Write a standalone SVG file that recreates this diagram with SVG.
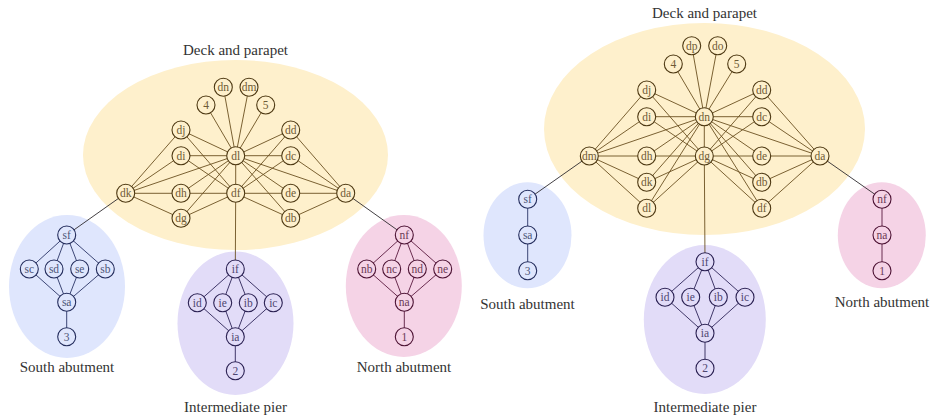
<svg xmlns="http://www.w3.org/2000/svg" width="933" height="416" viewBox="0 0 933 416">
  <style>
    .bg { fill: #ffffff; }
    .deck-area { fill: #fef0cc; }
    .south-area { fill: #dfe6fd; }
    .pier-area { fill: #e2dcf8; }
    .north-area { fill: #f5d3e6; }
    .title { font-family: "Liberation Serif", "DejaVu Serif", serif; font-size: 15px; fill: #333333; text-anchor: middle; }
    .lbl { font-family: "Liberation Serif", "DejaVu Serif", serif; font-size: 11.5px; text-anchor: middle; }
    .n circle { stroke-width: 1.1; }
    .deck circle { fill: #fef0cc; stroke: #4d3812; }
    .deck text { fill: #6e5a35; }
    .south circle { fill: #dfe6fd; stroke: #232c5c; }
    .south text { fill: #4d5577; }
    .pier circle { fill: #e2dcf8; stroke: #2a2052; }
    .pier text { fill: #4e4670; }
    .north circle { fill: #f5d3e6; stroke: #4c1233; }
    .north text { fill: #6a3a55; }
    .e { fill: none; stroke-width: 0.9; }
    .e-deck { stroke: #6b5020; }
    .e-south { stroke: #2a3466; }
    .e-pier { stroke: #2d2458; }
    .e-north { stroke: #5a1a3e; }
    .e-link { stroke: #2e2a2e; }
  </style>

  <rect class="bg" x="0" y="0" width="933" height="416"/>

  <!-- ===== Left configuration: cluster areas ===== -->
  <ellipse class="deck-area" cx="235.5" cy="155" rx="152.5" ry="95"/>
  <ellipse class="south-area" cx="67" cy="286.5" rx="58" ry="71.5"/>
  <ellipse class="pier-area" cx="235.5" cy="323.3" rx="58" ry="71.7"/>
  <ellipse class="north-area" cx="403.8" cy="286" rx="58" ry="71"/>

  <!-- ===== Right configuration: cluster areas ===== -->
  <ellipse class="deck-area" cx="704.5" cy="129" rx="160.5" ry="106"/>
  <ellipse class="south-area" cx="527.5" cy="235.3" rx="44" ry="53"/>
  <ellipse class="pier-area" cx="704.8" cy="319.5" rx="61" ry="74.5"/>
  <ellipse class="north-area" cx="881.8" cy="235.3" rx="44" ry="53"/>

  <!-- cluster titles -->
  <text class="title" x="235.5" y="54.5">Deck and parapet</text>
  <text class="title" x="67" y="371.5">South abutment</text>
  <text class="title" x="235.5" y="411.5">Intermediate pier</text>
  <text class="title" x="404" y="371.5">North abutment</text>
  <text class="title" x="704.5" y="17.5">Deck and parapet</text>
  <text class="title" x="527.5" y="308.5">South abutment</text>
  <text class="title" x="705" y="411.5">Intermediate pier</text>
  <text class="title" x="882" y="306.5">North abutment</text>

  <!-- ===== Connectors ===== -->
  <g id="connectors">
    <!-- left deck -->
    <g class="e e-deck">
      <line x1="235.7" y1="155.7" x2="206" y2="105"/>
      <line x1="235.7" y1="155.7" x2="223.3" y2="87.3"/>
      <line x1="235.7" y1="155.7" x2="249" y2="87.3"/>
      <line x1="235.7" y1="155.7" x2="265.7" y2="105"/>
      <line x1="235.7" y1="155.7" x2="235.7" y2="193.3"/>
      <!-- west side -->
      <line x1="125.7" y1="193.3" x2="181" y2="130"/>
      <line x1="125.7" y1="193.3" x2="181" y2="155.7"/>
      <line x1="125.7" y1="193.3" x2="235.7" y2="155.7"/>
      <line x1="125.7" y1="193.3" x2="181" y2="193.3"/>
      <line x1="125.7" y1="193.3" x2="181" y2="218.3"/>
      <line x1="181" y1="130" x2="235.7" y2="155.7"/>
      <line x1="181" y1="155.7" x2="235.7" y2="155.7"/>
      <line x1="181" y1="193.3" x2="235.7" y2="155.7"/>
      <line x1="181" y1="218.3" x2="235.7" y2="155.7"/>
      <line x1="181" y1="130" x2="235.7" y2="193.3"/>
      <line x1="181" y1="155.7" x2="235.7" y2="193.3"/>
      <line x1="181" y1="193.3" x2="235.7" y2="193.3"/>
      <line x1="181" y1="218.3" x2="235.7" y2="193.3"/>
      <!-- east side -->
      <line x1="345.7" y1="193.3" x2="290.7" y2="130"/>
      <line x1="345.7" y1="193.3" x2="290.7" y2="155.7"/>
      <line x1="345.7" y1="193.3" x2="235.7" y2="155.7"/>
      <line x1="345.7" y1="193.3" x2="290.7" y2="193.3"/>
      <line x1="345.7" y1="193.3" x2="290.7" y2="218.3"/>
      <line x1="290.7" y1="130" x2="235.7" y2="155.7"/>
      <line x1="290.7" y1="155.7" x2="235.7" y2="155.7"/>
      <line x1="290.7" y1="193.3" x2="235.7" y2="155.7"/>
      <line x1="290.7" y1="218.3" x2="235.7" y2="155.7"/>
      <line x1="290.7" y1="130" x2="235.7" y2="193.3"/>
      <line x1="290.7" y1="155.7" x2="235.7" y2="193.3"/>
      <line x1="290.7" y1="193.3" x2="235.7" y2="193.3"/>
      <line x1="290.7" y1="218.3" x2="235.7" y2="193.3"/>
      <!-- deck to pier -->
      <line x1="235.7" y1="193.3" x2="235.3" y2="269"/>
    </g>
    <line class="e e-link" x1="125.7" y1="193.3" x2="66.7" y2="235"/>
    <line class="e e-link" x1="345.7" y1="193.3" x2="404.3" y2="235"/>

    <!-- left south abutment -->
    <g class="e e-south">
      <line x1="66.7" y1="235" x2="29.3" y2="269"/>
      <line x1="66.7" y1="235" x2="54" y2="269"/>
      <line x1="66.7" y1="235" x2="79.7" y2="269"/>
      <line x1="66.7" y1="235" x2="105.3" y2="269"/>
      <line x1="66.7" y1="302.3" x2="29.3" y2="269"/>
      <line x1="66.7" y1="302.3" x2="54" y2="269"/>
      <line x1="66.7" y1="302.3" x2="79.7" y2="269"/>
      <line x1="66.7" y1="302.3" x2="105.3" y2="269"/>
      <line x1="66.7" y1="302.3" x2="66.7" y2="336.7"/>
    </g>
    <!-- left pier -->
    <g class="e e-pier">
      <line x1="235.3" y1="269" x2="197.3" y2="302.7"/>
      <line x1="235.3" y1="269" x2="222.7" y2="302.7"/>
      <line x1="235.3" y1="269" x2="248.3" y2="302.7"/>
      <line x1="235.3" y1="269" x2="273.3" y2="302.7"/>
      <line x1="235.3" y1="336.7" x2="197.3" y2="302.7"/>
      <line x1="235.3" y1="336.7" x2="222.7" y2="302.7"/>
      <line x1="235.3" y1="336.7" x2="248.3" y2="302.7"/>
      <line x1="235.3" y1="336.7" x2="273.3" y2="302.7"/>
      <line x1="235.3" y1="336.7" x2="235.3" y2="370.7"/>
    </g>
    <!-- left north abutment -->
    <g class="e e-north">
      <line x1="404.3" y1="235" x2="366.7" y2="269"/>
      <line x1="404.3" y1="235" x2="391.7" y2="269"/>
      <line x1="404.3" y1="235" x2="417.3" y2="269"/>
      <line x1="404.3" y1="235" x2="442.7" y2="269"/>
      <line x1="404.3" y1="302.3" x2="366.7" y2="269"/>
      <line x1="404.3" y1="302.3" x2="391.7" y2="269"/>
      <line x1="404.3" y1="302.3" x2="417.3" y2="269"/>
      <line x1="404.3" y1="302.3" x2="442.7" y2="269"/>
      <line x1="404.3" y1="302.3" x2="404.3" y2="336.7"/>
    </g>

    <!-- right deck -->
    <g class="e e-deck">
      <line x1="704.3" y1="116.7" x2="673.3" y2="64"/>
      <line x1="704.3" y1="116.7" x2="691.7" y2="45.7"/>
      <line x1="704.3" y1="116.7" x2="717.7" y2="45.7"/>
      <line x1="704.3" y1="116.7" x2="736.7" y2="64"/>
      <line x1="704.3" y1="116.7" x2="704.3" y2="156"/>
      <!-- west side -->
      <line x1="589.3" y1="156" x2="646.7" y2="90"/>
      <line x1="589.3" y1="156" x2="646.7" y2="116.7"/>
      <line x1="589.3" y1="156" x2="704.3" y2="116.7"/>
      <line x1="589.3" y1="156" x2="646.7" y2="156"/>
      <line x1="589.3" y1="156" x2="646.7" y2="182.3"/>
      <line x1="589.3" y1="156" x2="646.7" y2="208.3"/>
      <line x1="646.7" y1="90" x2="704.3" y2="116.7"/>
      <line x1="646.7" y1="116.7" x2="704.3" y2="116.7"/>
      <line x1="646.7" y1="156" x2="704.3" y2="116.7"/>
      <line x1="646.7" y1="182.3" x2="704.3" y2="116.7"/>
      <line x1="646.7" y1="208.3" x2="704.3" y2="116.7"/>
      <line x1="646.7" y1="90" x2="704.3" y2="156"/>
      <line x1="646.7" y1="116.7" x2="704.3" y2="156"/>
      <line x1="646.7" y1="156" x2="704.3" y2="156"/>
      <line x1="646.7" y1="182.3" x2="704.3" y2="156"/>
      <line x1="646.7" y1="208.3" x2="704.3" y2="156"/>
      <!-- east side -->
      <line x1="820" y1="156" x2="761.7" y2="90"/>
      <line x1="820" y1="156" x2="761.7" y2="116.7"/>
      <line x1="820" y1="156" x2="704.3" y2="116.7"/>
      <line x1="820" y1="156" x2="761.7" y2="156"/>
      <line x1="820" y1="156" x2="761.7" y2="182.3"/>
      <line x1="820" y1="156" x2="761.7" y2="208.3"/>
      <line x1="761.7" y1="90" x2="704.3" y2="116.7"/>
      <line x1="761.7" y1="116.7" x2="704.3" y2="116.7"/>
      <line x1="761.7" y1="156" x2="704.3" y2="116.7"/>
      <line x1="761.7" y1="182.3" x2="704.3" y2="116.7"/>
      <line x1="761.7" y1="208.3" x2="704.3" y2="116.7"/>
      <line x1="761.7" y1="90" x2="704.3" y2="156"/>
      <line x1="761.7" y1="116.7" x2="704.3" y2="156"/>
      <line x1="761.7" y1="156" x2="704.3" y2="156"/>
      <line x1="761.7" y1="182.3" x2="704.3" y2="156"/>
      <line x1="761.7" y1="208.3" x2="704.3" y2="156"/>
      <!-- deck to pier -->
      <line x1="704.3" y1="156" x2="705" y2="261.7"/>
    </g>
    <line class="e e-link" x1="589.3" y1="156" x2="527.7" y2="199.3"/>
    <line class="e e-link" x1="820" y1="156" x2="882" y2="199.3"/>

    <!-- right south abutment -->
    <g class="e e-south">
      <line x1="527.7" y1="199.3" x2="527.7" y2="235"/>
      <line x1="527.7" y1="235" x2="527.7" y2="270.7"/>
    </g>
    <!-- right pier -->
    <g class="e e-pier">
      <line x1="705" y1="261.7" x2="665" y2="297.3"/>
      <line x1="705" y1="261.7" x2="690.7" y2="297.3"/>
      <line x1="705" y1="261.7" x2="718.3" y2="297.3"/>
      <line x1="705" y1="261.7" x2="745" y2="297.3"/>
      <line x1="705" y1="333.3" x2="665" y2="297.3"/>
      <line x1="705" y1="333.3" x2="690.7" y2="297.3"/>
      <line x1="705" y1="333.3" x2="718.3" y2="297.3"/>
      <line x1="705" y1="333.3" x2="745" y2="297.3"/>
      <line x1="705" y1="333.3" x2="705" y2="368.3"/>
    </g>
    <!-- right north abutment -->
    <g class="e e-north">
      <line x1="882" y1="199.3" x2="882" y2="235"/>
      <line x1="882" y1="235" x2="882" y2="270.7"/>
    </g>
  </g>

  <!-- ===== Nodes: left configuration ===== -->
  <g class="n deck">
    <g id="L-dn"><circle cx="223.3" cy="87.3" r="9"/><text class="lbl" x="223.3" y="91.2">dn</text></g>
    <g id="L-dm"><circle cx="249" cy="87.3" r="9"/><text class="lbl" x="249" y="91.2">dm</text></g>
    <g id="L-4"><circle cx="206" cy="105" r="9"/><text class="lbl" x="206" y="108.9">4</text></g>
    <g id="L-5"><circle cx="265.7" cy="105" r="9"/><text class="lbl" x="265.7" y="108.9">5</text></g>
    <g id="L-dj"><circle cx="181" cy="130" r="9"/><text class="lbl" x="181" y="133.9">dj</text></g>
    <g id="L-dd"><circle cx="290.7" cy="130" r="9"/><text class="lbl" x="290.7" y="133.9">dd</text></g>
    <g id="L-di"><circle cx="181" cy="155.7" r="9"/><text class="lbl" x="181" y="159.6">di</text></g>
    <g id="L-dl"><circle cx="235.7" cy="155.7" r="9"/><text class="lbl" x="235.7" y="159.6">dl</text></g>
    <g id="L-dc"><circle cx="290.7" cy="155.7" r="9"/><text class="lbl" x="290.7" y="159.6">dc</text></g>
    <g id="L-dk"><circle cx="125.7" cy="193.3" r="9"/><text class="lbl" x="125.7" y="197.2">dk</text></g>
    <g id="L-dh"><circle cx="181" cy="193.3" r="9"/><text class="lbl" x="181" y="197.2">dh</text></g>
    <g id="L-df"><circle cx="235.7" cy="193.3" r="9"/><text class="lbl" x="235.7" y="197.2">df</text></g>
    <g id="L-de"><circle cx="290.7" cy="193.3" r="9"/><text class="lbl" x="290.7" y="197.2">de</text></g>
    <g id="L-da"><circle cx="345.7" cy="193.3" r="9"/><text class="lbl" x="345.7" y="197.2">da</text></g>
    <g id="L-dg"><circle cx="181" cy="218.3" r="9"/><text class="lbl" x="181" y="222.2">dg</text></g>
    <g id="L-db"><circle cx="290.7" cy="218.3" r="9"/><text class="lbl" x="290.7" y="222.2">db</text></g>
  </g>
  <g class="n south">
    <g id="L-sf"><circle cx="66.7" cy="235" r="9"/><text class="lbl" x="66.7" y="238.9">sf</text></g>
    <g id="L-sc"><circle cx="29.3" cy="269" r="9"/><text class="lbl" x="29.3" y="272.9">sc</text></g>
    <g id="L-sd"><circle cx="54" cy="269" r="9"/><text class="lbl" x="54" y="272.9">sd</text></g>
    <g id="L-se"><circle cx="79.7" cy="269" r="9"/><text class="lbl" x="79.7" y="272.9">se</text></g>
    <g id="L-sb"><circle cx="105.3" cy="269" r="9"/><text class="lbl" x="105.3" y="272.9">sb</text></g>
    <g id="L-sa"><circle cx="66.7" cy="302.3" r="9"/><text class="lbl" x="66.7" y="306.2">sa</text></g>
    <g id="L-3"><circle cx="66.7" cy="336.7" r="9"/><text class="lbl" x="66.7" y="340.6">3</text></g>
  </g>
  <g class="n pier">
    <g id="L-if"><circle cx="235.3" cy="269" r="9"/><text class="lbl" x="235.3" y="272.9">if</text></g>
    <g id="L-id"><circle cx="197.3" cy="302.7" r="9"/><text class="lbl" x="197.3" y="306.6">id</text></g>
    <g id="L-ie"><circle cx="222.7" cy="302.7" r="9"/><text class="lbl" x="222.7" y="306.6">ie</text></g>
    <g id="L-ib"><circle cx="248.3" cy="302.7" r="9"/><text class="lbl" x="248.3" y="306.6">ib</text></g>
    <g id="L-ic"><circle cx="273.3" cy="302.7" r="9"/><text class="lbl" x="273.3" y="306.6">ic</text></g>
    <g id="L-ia"><circle cx="235.3" cy="336.7" r="9"/><text class="lbl" x="235.3" y="340.6">ia</text></g>
    <g id="L-2"><circle cx="235.3" cy="370.7" r="9"/><text class="lbl" x="235.3" y="374.6">2</text></g>
  </g>
  <g class="n north">
    <g id="L-nf"><circle cx="404.3" cy="235" r="9"/><text class="lbl" x="404.3" y="238.9">nf</text></g>
    <g id="L-nb"><circle cx="366.7" cy="269" r="9"/><text class="lbl" x="366.7" y="272.9">nb</text></g>
    <g id="L-nc"><circle cx="391.7" cy="269" r="9"/><text class="lbl" x="391.7" y="272.9">nc</text></g>
    <g id="L-nd"><circle cx="417.3" cy="269" r="9"/><text class="lbl" x="417.3" y="272.9">nd</text></g>
    <g id="L-ne"><circle cx="442.7" cy="269" r="9"/><text class="lbl" x="442.7" y="272.9">ne</text></g>
    <g id="L-na"><circle cx="404.3" cy="302.3" r="9"/><text class="lbl" x="404.3" y="306.2">na</text></g>
    <g id="L-1"><circle cx="404.3" cy="336.7" r="9"/><text class="lbl" x="404.3" y="340.6">1</text></g>
  </g>

  <!-- ===== Nodes: right configuration ===== -->
  <g class="n deck">
    <g id="R-dp"><circle cx="691.7" cy="45.7" r="9"/><text class="lbl" x="691.7" y="49.6">dp</text></g>
    <g id="R-do"><circle cx="717.7" cy="45.7" r="9"/><text class="lbl" x="717.7" y="49.6">do</text></g>
    <g id="R-4"><circle cx="673.3" cy="64" r="9"/><text class="lbl" x="673.3" y="67.9">4</text></g>
    <g id="R-5"><circle cx="736.7" cy="64" r="9"/><text class="lbl" x="736.7" y="67.9">5</text></g>
    <g id="R-dj"><circle cx="646.7" cy="90" r="9"/><text class="lbl" x="646.7" y="93.9">dj</text></g>
    <g id="R-dd"><circle cx="761.7" cy="90" r="9"/><text class="lbl" x="761.7" y="93.9">dd</text></g>
    <g id="R-di"><circle cx="646.7" cy="116.7" r="9"/><text class="lbl" x="646.7" y="120.6">di</text></g>
    <g id="R-dn"><circle cx="704.3" cy="116.7" r="9"/><text class="lbl" x="704.3" y="120.6">dn</text></g>
    <g id="R-dc"><circle cx="761.7" cy="116.7" r="9"/><text class="lbl" x="761.7" y="120.6">dc</text></g>
    <g id="R-dm"><circle cx="589.3" cy="156" r="9"/><text class="lbl" x="589.3" y="159.9">dm</text></g>
    <g id="R-dh"><circle cx="646.7" cy="156" r="9"/><text class="lbl" x="646.7" y="159.9">dh</text></g>
    <g id="R-dg"><circle cx="704.3" cy="156" r="9"/><text class="lbl" x="704.3" y="159.9">dg</text></g>
    <g id="R-de"><circle cx="761.7" cy="156" r="9"/><text class="lbl" x="761.7" y="159.9">de</text></g>
    <g id="R-da"><circle cx="820" cy="156" r="9"/><text class="lbl" x="820" y="159.9">da</text></g>
    <g id="R-dk"><circle cx="646.7" cy="182.3" r="9"/><text class="lbl" x="646.7" y="186.2">dk</text></g>
    <g id="R-db"><circle cx="761.7" cy="182.3" r="9"/><text class="lbl" x="761.7" y="186.2">db</text></g>
    <g id="R-dl"><circle cx="646.7" cy="208.3" r="9"/><text class="lbl" x="646.7" y="212.2">dl</text></g>
    <g id="R-df"><circle cx="761.7" cy="208.3" r="9"/><text class="lbl" x="761.7" y="212.2">df</text></g>
  </g>
  <g class="n south">
    <g id="R-sf"><circle cx="527.7" cy="199.3" r="9"/><text class="lbl" x="527.7" y="203.2">sf</text></g>
    <g id="R-sa"><circle cx="527.7" cy="235" r="9"/><text class="lbl" x="527.7" y="238.9">sa</text></g>
    <g id="R-3"><circle cx="527.7" cy="270.7" r="9"/><text class="lbl" x="527.7" y="274.6">3</text></g>
  </g>
  <g class="n pier">
    <g id="R-if"><circle cx="705" cy="261.7" r="9"/><text class="lbl" x="705" y="265.6">if</text></g>
    <g id="R-id"><circle cx="665" cy="297.3" r="9"/><text class="lbl" x="665" y="301.2">id</text></g>
    <g id="R-ie"><circle cx="690.7" cy="297.3" r="9"/><text class="lbl" x="690.7" y="301.2">ie</text></g>
    <g id="R-ib"><circle cx="718.3" cy="297.3" r="9"/><text class="lbl" x="718.3" y="301.2">ib</text></g>
    <g id="R-ic"><circle cx="745" cy="297.3" r="9"/><text class="lbl" x="745" y="301.2">ic</text></g>
    <g id="R-ia"><circle cx="705" cy="333.3" r="9"/><text class="lbl" x="705" y="337.2">ia</text></g>
    <g id="R-2"><circle cx="705" cy="368.3" r="9"/><text class="lbl" x="705" y="372.2">2</text></g>
  </g>
  <g class="n north">
    <g id="R-nf"><circle cx="882" cy="199.3" r="9"/><text class="lbl" x="882" y="203.2">nf</text></g>
    <g id="R-na"><circle cx="882" cy="235" r="9"/><text class="lbl" x="882" y="238.9">na</text></g>
    <g id="R-1"><circle cx="882" cy="270.7" r="9"/><text class="lbl" x="882" y="274.6">1</text></g>
  </g>
</svg>
